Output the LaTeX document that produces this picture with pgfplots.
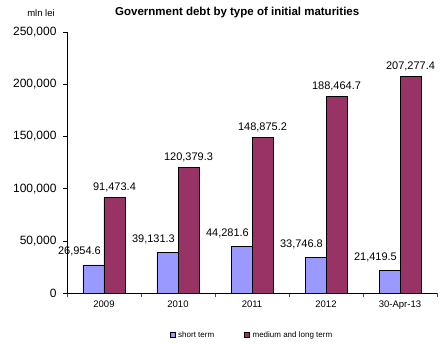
\documentclass[border=0pt]{standalone}
\usepackage{pgfplots}
\pgfplotsset{compat=1.18}
\usepackage{fontspec}
\setmainfont{Liberation Sans}
\definecolor{shortc}{RGB}{153,153,255}
\definecolor{medc}{RGB}{153,51,102}
\begin{document}
\begin{tikzpicture}
\begin{axis}[
  scale only axis,
  width=370pt, height=261pt,
  ymin=0, ymax=250000,
  xmin=-0.5, xmax=4.5,
  axis x line*=bottom,
  axis y line*=left,
  axis line style={black, line width=0.8pt},
  ytick={0,50000,100000,150000,200000,250000},
  /pgf/number format/assume math mode=true,
  yticklabel style={font=\fontsize{12}{14}\selectfont, xshift=-3pt, /pgf/number format/fixed, /pgf/number format/1000 sep={,}},
  scaled y ticks=false,
  xtick={0,1,2,3,4},
  xticklabels={2009,2010,2011,2012,30-Apr-13},
  xticklabel style={font=\fontsize{9.5}{11}\selectfont},
  major x tick style={draw=none},
  minor xtick={-0.5,0.5,1.5,2.5,3.5,4.5},
  minor x tick style={black!70, thin},
  minor tick length=4pt,
  tick align=outside,
  major tick length=4pt,
  ytick style={black, thin},
  ybar,
  bar width=21pt,
  nodes near coords,
  nodes near coords style={font=\fontsize{11}{13}\selectfont, yshift=2pt, /pgf/number format/fixed, /pgf/number format/fixed zerofill, /pgf/number format/precision=1, /pgf/number format/1000 sep={,}},
  legend style={at={(0.5,-0.161)}, anchor=center, draw=none, font=\fontsize{8}{10}\selectfont, legend columns=2, /tikz/every even column/.append style={column sep=28pt}, /tikz/every odd column/.append style={column sep=1pt}},
  legend image code/.code={\draw[#1, draw=black, line width=0.4pt] (0pt,-2.5pt) rectangle (5pt,2.5pt);},
  clip=false,
]
\addplot[fill=shortc, draw=black, line width=0.6pt, bar shift=-10.5pt, nodes near coords style={/tikz/anchor=south east, /tikz/xshift=11pt, /tikz/yshift=3pt}] coordinates {(0,26954.6) (1,39131.3) (2,44281.6) (3,33746.8) (4,21419.5)};
\addplot[fill=medc, draw=black, line width=0.6pt, bar shift=10.5pt] coordinates {(0,91473.4) (1,120379.3) (2,148875.2) (3,188464.7) (4,207277.4)};
\legend{short term, medium and long term}
\node[font=\bfseries\fontsize{11.5}{13}\selectfont, anchor=center] at (axis cs:1.8,0) [yshift=280pt] {Government debt by type of initial maturities};
\node[font=\fontsize{9.5}{11}\selectfont, anchor=center] at (axis cs:-0.5,0) [xshift=-26pt, yshift=280pt] {mln lei};
\coordinate (o) at (axis cs:-0.5,0);
\end{axis}
\pgfresetboundingbox
\path[use as bounding box] (o) ++(-67pt,-51pt) rectangle ++(441pt,344pt);
\end{tikzpicture}
\end{document}
